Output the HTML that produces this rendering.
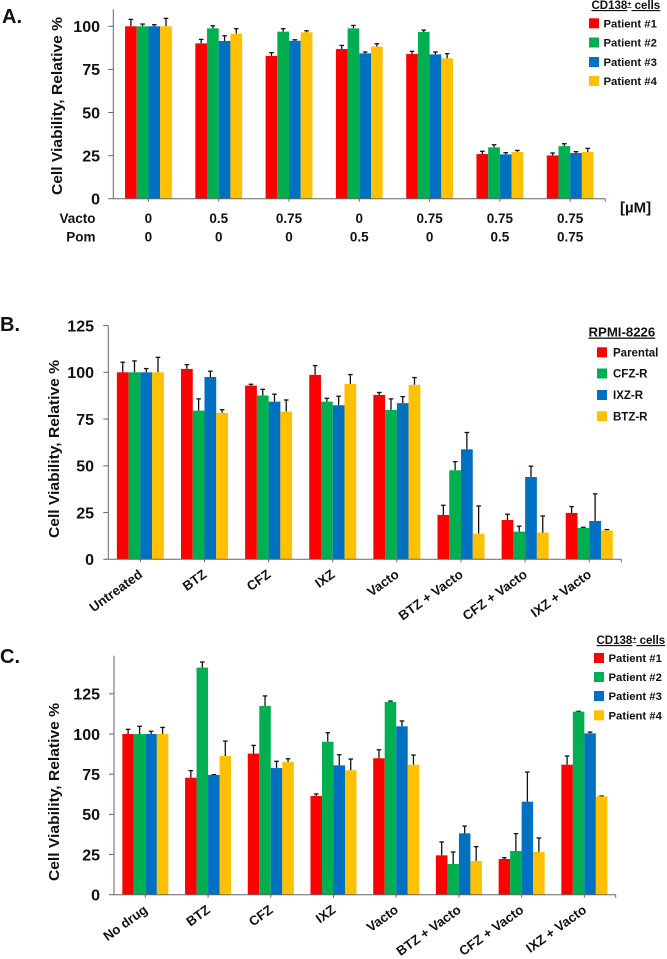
<!DOCTYPE html>
<html>
<head>
<meta charset="utf-8">
<style>
html,body{margin:0;padding:0;background:#fff;}
svg{display:block;font-family:"Liberation Sans",sans-serif;font-weight:bold;fill:#111;filter:blur(0.3px);}
</style>
</head>
<body>
<svg id="fig" width="667" height="959" viewBox="0 0 667 959" xmlns="http://www.w3.org/2000/svg">
<text x="2" y="23" font-size="20">A.</text>
<text x="0" y="331" font-size="20">B.</text>
<text x="0" y="663" font-size="20">C.</text>

<text transform="translate(58,106) rotate(-90)" text-anchor="middle" dominant-baseline="central" font-size="14.5" textLength="178" lengthAdjust="spacingAndGlyphs">Cell Viability, Relative %</text>
<text transform="translate(55,449) rotate(-90)" text-anchor="middle" dominant-baseline="central" font-size="14.5" textLength="178" lengthAdjust="spacingAndGlyphs">Cell Viability, Relative %</text>
<text transform="translate(55,792) rotate(-90)" text-anchor="middle" dominant-baseline="central" font-size="14.5" textLength="178" lengthAdjust="spacingAndGlyphs">Cell Viability, Relative %</text>

<text x="95.5" y="223" text-anchor="end" font-size="13.5">Vacto</text>
<text x="95.5" y="241.5" text-anchor="end" font-size="13.5">Pom</text>
<text x="620" y="212.5" font-size="15">[µM]</text>

<g>
<text x="591.5" y="9" font-size="11.5" text-decoration="underline">CD138<tspan font-size="7" dy="-3">+</tspan><tspan dy="3"> cells</tspan></text>
<rect x="589" y="18.3" width="10" height="10" fill="#FF0000"/>
<text x="603.5" y="27.3" font-size="11.3">Patient #1</text>
<rect x="589" y="37.5" width="10" height="10" fill="#00B050"/>
<text x="603.5" y="46.3" font-size="11.3">Patient #2</text>
<rect x="589" y="57" width="10" height="10" fill="#0070C0"/>
<text x="603.5" y="65.8" font-size="11.3">Patient #3</text>
<rect x="589" y="76" width="10" height="10" fill="#FFC000"/>
<text x="603.5" y="85" font-size="11.3">Patient #4</text>
</g>

<g>
<text x="588.5" y="336.5" font-size="13.2" text-decoration="underline">RPMI-8226</text>
<rect x="597" y="347.3" width="10" height="10" fill="#FF0000"/>
<text x="613" y="356.3" font-size="11.5">Parental</text>
<rect x="597" y="368.5" width="10" height="10" fill="#00B050"/>
<text x="613" y="377.5" font-size="11.5">CFZ-R</text>
<rect x="597" y="390" width="10" height="10" fill="#0070C0"/>
<text x="613" y="399" font-size="11.5">IXZ-R</text>
<rect x="597" y="411.3" width="10" height="10" fill="#FFC000"/>
<text x="613" y="420.5" font-size="11.5">BTZ-R</text>
</g>

<g>
<text x="596.5" y="644" font-size="11.5" text-decoration="underline">CD138<tspan font-size="7" dy="-3">+</tspan><tspan dy="3"> cells</tspan></text>
<rect x="594" y="653" width="10" height="10" fill="#FF0000"/>
<text x="608.5" y="662" font-size="11.3">Patient #1</text>
<rect x="594" y="672" width="10" height="10" fill="#00B050"/>
<text x="608.5" y="681" font-size="11.3">Patient #2</text>
<rect x="594" y="691" width="10" height="10" fill="#0070C0"/>
<text x="608.5" y="700" font-size="11.3">Patient #3</text>
<rect x="594" y="710.3" width="10" height="10" fill="#FFC000"/>
<text x="608.5" y="719.3" font-size="11.3">Patient #4</text>
</g>
</svg>

<script>
// Panel A data
const aVacto = ["0","0.5","0.75","0","0.75","0.75","0.75"];
const aPom = ["0","0","0","0.5","0","0.5","0.75"];
const aPatient1 = [100,90.1,82.8,86.8,83.9,25.9,25.1];
const aPatient2 = [100,98.8,96.9,98.8,96.7,29.8,30.5];
const aPatient3 = [100,91.5,91.6,84.3,83.7,25.7,26.5];
const aPatient4 = [100,95.7,96.5,88.2,81.4,27.1,27.1];
const aErr1 = [4,2.3,1.9,2.1,1.6,1.6,1.4];
const aErr2 = [1.3,1.5,1.7,1.7,1.1,1.5,1.4];
const aErr3 = [0.9,3,0.6,0.8,1.4,1,0.8];
const aErr4 = [4.6,2.9,0.9,1.7,2.7,0.9,2.1];
const aTicks = [0,25,50,75,100];

// Panel B data
const bCategories = ["Untreated","BTZ","CFZ","IXZ","Vacto","BTZ + Vacto","CFZ + Vacto","IXZ + Vacto"];
const bParental = [100,101.8,92.9,98.6,87.9,23.7,21,24.8];
const bCfzR = [100,79.5,87.6,84.3,79.9,47.6,14.8,16.8];
const bIxzR = [100,97.5,84.3,82.4,83.5,58.8,44,20.5];
const bBtzR = [100,78.3,79,93.8,93.3,13.7,14.3,15.5];
const bErr1 = [5.4,2.3,0.7,5,1.3,5.2,3.1,3.4];
const bErr2 = [6.1,6.3,3.3,1.8,5.9,4.6,2.9,0.3];
const bErr3 = [2,3.1,4,4.8,3.5,9,5.8,14.5];
const bErr4 = [8,1.7,6.2,5,3.9,14.8,8.9,0.4];
const bTicks = [0,25,50,75,100,125];

// Panel C data
const cCategories = ["No drug","BTZ","CFZ","IXZ","Vacto","BTZ + Vacto","CFZ + Vacto","IXZ + Vacto"];
const cPatient1 = [100,72.8,87.8,61.4,84.9,24.5,22.2,80.9];
const cPatient2 = [100,141.3,117.4,95.2,119.9,19.1,27.2,113.9];
const cPatient3 = [100,74.5,78.8,80.5,104.8,38.2,57.9,100.4];
const cPatient4 = [100,86.3,82.6,77.4,80.9,21,26.6,61.2];
const cErr1 = [2.9,4.4,5.1,1.3,5.3,8.3,0.8,5.4];
const cErr2 = [4.8,3.5,6.3,5.6,0.6,7.5,10.8,0.2];
const cErr3 = [1.7,0.2,4.2,6.6,3.3,4.5,18.4,0.8];
const cErr4 = [4.1,9.3,2,7,6,8.9,8.7,0.2];
const cTicks = [0,25,50,75,100,125];

const seriesColors = ["#FF0000","#00B050","#0070C0","#FFC000"];
const NS = "http://www.w3.org/2000/svg";
const fig = document.getElementById("fig");

function make(tag, parent, attrs) {
  const el = document.createElementNS(NS, tag);
  for (const k in attrs) el.setAttribute(k, attrs[k]);
  parent.appendChild(el);
  return el;
}

function drawPanel(p) {
  const unit = (p.base - p.y100) / 100;
  const yScale = v => p.base - v * unit;
  const step = (p.right - p.left) / p.series[0].length;
  const xCenter = i => p.left + step * (i + 0.5);

  const group = make("g", fig, {});
  
  

  p.series.forEach((vals, s) => {
    vals.forEach((v, i) => {
      const barX = xCenter(i) + (s - 2) * p.barW;
      const cx = barX + p.barW / 2;
      const top = yScale(v + p.errors[s][i]);
      const stem = make("line", group, {x1: cx, x2: cx, y1: yScale(v), y2: top, stroke: "#111", "stroke-width": 1.3});
      
      
      const cap = make("line", group, {x1: cx - 2.3, x2: cx + 2.3, y1: top, y2: top, stroke: "#111", "stroke-width": 1.3});
      
      
    });
  });
  p.series.forEach((vals, s) => {
    vals.forEach((v, i) => {
      const barX = xCenter(i) + (s - 2) * p.barW;
      const bar = make("rect", group, {x: barX, y: yScale(v), width: p.barW, height: v * unit, fill: seriesColors[s]});
      
      
    });
  });

  const yAxis = make("line", group, {x1: p.left, x2: p.left, y1: p.top, y2: p.base, stroke: "#666", "stroke-width": 1});
  
  
  const xAxis = make("line", group, {x1: p.left, x2: p.right, y1: p.base, y2: p.base, stroke: "#666", "stroke-width": 1});
  
  

  p.ticks.forEach(t => {
    const mark = make("line", group, {x1: p.left - 5, x2: p.left, y1: yScale(t), y2: yScale(t), stroke: "#666", "stroke-width": 1});
    
    
    const label = make("text", group, {x: p.tickRight, y: yScale(t) + 5.8, "text-anchor": "end", "font-size": 16});
    
    
    label.textContent = t;
  });

  p.series[0].forEach((_, i) => {
    const mark = make("line", group, {x1: xCenter(i), x2: xCenter(i), y1: p.base, y2: p.base + 3, stroke: "#666", "stroke-width": 1});
    
    
  });
  const endMark = make("line", group, {x1: p.right, x2: p.right, y1: p.base, y2: p.base + 3, stroke: "#666", "stroke-width": 1});
  
  

  if (p.categories) {
    p.categories.forEach((c, i) => {
      const lx = xCenter(i) + 3;
      const ly = p.base + 17;
      const label = make("text", group, {transform: "translate(" + lx + "," + ly + ") rotate(-36)", "text-anchor": "end", "font-size": 13.2});
      
      
      label.textContent = c;
    });
  }
  if (p.rows) {
    p.rows.forEach((row, r) => {
      row.forEach((c, i) => {
        const label = make("text", group, {x: xCenter(i), y: p.rowY[r], "text-anchor": "middle", "font-size": 13.5});
        
        
        label.textContent = c;
      });
    });
  }
}

drawPanel({id: "panel-a", left: 113.3, right: 605.3, top: 9.3, base: 198.7, y100: 26.3, barW: 11.7, tickRight: 100,
  series: [aPatient1, aPatient2, aPatient3, aPatient4], errors: [aErr1, aErr2, aErr3, aErr4], ticks: aTicks,
  rows: [aVacto, aPom], rowY: [223, 241.5]});
drawPanel({id: "panel-b", left: 108.3, right: 621.3, top: 325.7, base: 559.3, y100: 372.3, barW: 11.75, tickRight: 94,
  series: [bParental, bCfzR, bIxzR, bBtzR], errors: [bErr1, bErr2, bErr3, bErr4], ticks: bTicks,
  categories: bCategories});
drawPanel({id: "panel-c", left: 114, right: 615.7, top: 655.7, base: 894.7, y100: 734, barW: 11.5, tickRight: 100,
  series: [cPatient1, cPatient2, cPatient3, cPatient4], errors: [cErr1, cErr2, cErr3, cErr4], ticks: cTicks,
  categories: cCategories});
</script>
</body>
</html>
